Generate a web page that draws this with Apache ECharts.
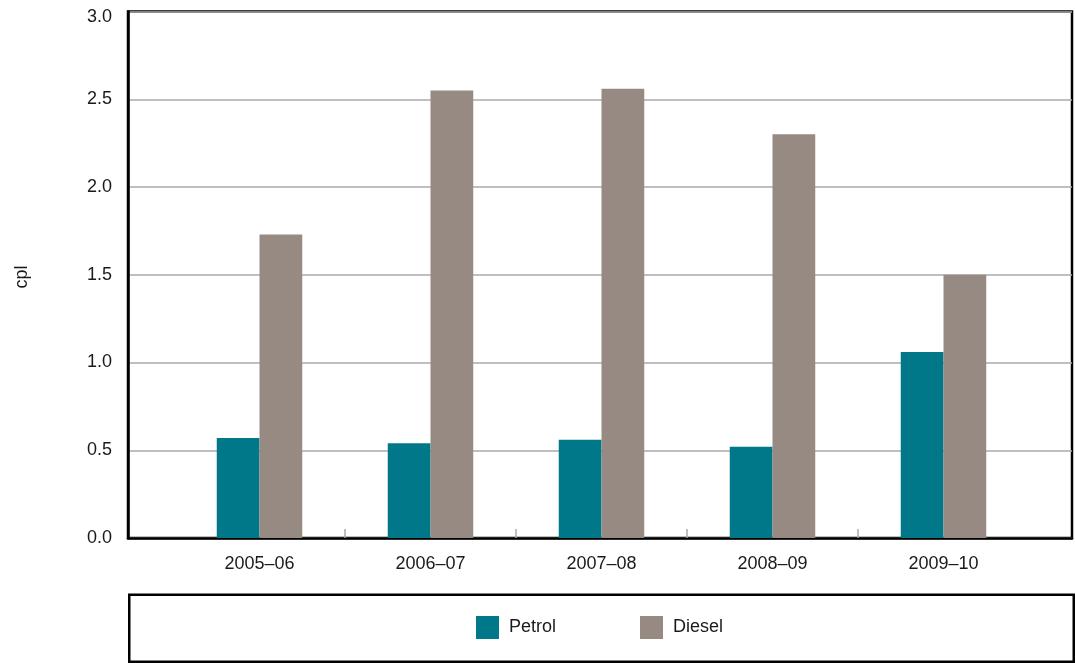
<!DOCTYPE html>
<html><head><meta charset="utf-8">
<script src="https://cdn.jsdelivr.net/npm/echarts@6/dist/echarts.min.js"></script>
<style>html,body{margin:0;padding:0;background:#fff}#c{width:1075px;height:663px}</style>
</head><body><div id="c"></div>
<script>
const categories = ['2005–06', '2006–07', '2007–08', '2008–09', '2009–10'];
const petrol = [0.57, 0.54, 0.56, 0.52, 1.06];
const diesel = [1.73, 2.55, 2.56, 2.30, 1.50];
const yMin = 0, yMax = 3, yStep = 0.5;
const yName = 'cpl';
const seriesNames = ['Petrol', 'Diesel'];

const FONT = '"Liberation Sans", Arial, sans-serif';
const TXT = '#1a1a1a';
// extra hidden category on the right so the trailing boundary tick falls off-canvas
const barCats = categories.concat(['']);
const pad = arr => arr.concat(['-']);

const chart = echarts.init(document.getElementById('c'), null, {renderer: 'canvas'});
chart.setOption({
  animation: false,
  backgroundColor: '#fff',
  textStyle: {fontFamily: FONT},
  grid: [
    {left: 128, right: 3, top: 11.5, bottom: 125, show: true, borderColor: '#000', borderWidth: 2.5,
     containLabel: false, outerBoundsMode: 'none'},
    {left: 174, width: 1026, top: 11.5, bottom: 125, containLabel: false, outerBoundsMode: 'none'}
  ],
  xAxis: [
    {gridIndex: 0, type: 'value', min: 0, max: 1, axisLabel: {show: false}, axisTick: {show: false}, splitLine: {show: false},
     axisLine: {show: true, lineStyle: {color: '#000', width: 2.5}}},
    {gridIndex: 1, type: 'category', data: barCats, axisLine: {show: false},
     axisTick: {show: true, inside: true, length: 9, lineStyle: {color: '#aaa', width: 1.5},
       interval: function (idx) { return idx >= 1 && idx <= categories.length - 1; }},
     axisLabel: {interval: 0, margin: 17, fontSize: 18, color: TXT, fontFamily: FONT}}
  ],
  yAxis: [
    {gridIndex: 0, type: 'value', min: yMin, max: yMax, interval: yStep,
     axisLine: {show: true, lineStyle: {color: '#000', width: 2.5}}, axisTick: {show: false},
     splitLine: {show: true, lineStyle: {color: '#aaa', width: 1.5}},
     axisLabel: {margin: 16, fontSize: 18, color: TXT, fontFamily: FONT,
       formatter: v => v === yMax ? '{t|' + v.toFixed(1) + '}' : v.toFixed(1),
       rich: {t: {fontSize: 18, color: TXT, fontFamily: FONT, padding: [11, 0, 0, 0]}}}},
    {gridIndex: 1, type: 'value', min: yMin, max: yMax, interval: yStep, show: false, splitLine: {show: false}}
  ],
  legend: {
    left: 471, top: 611, itemWidth: 23, itemHeight: 23, itemGap: 84, icon: 'rect',
    textStyle: {fontSize: 18, color: TXT, fontFamily: FONT, padding: [0, 0, 0, 5]},
    data: seriesNames
  },
  graphic: [
    {type: 'rect', left: 128 - 1.25, top: 593.5 - 1.25, shape: {width: 944.5, height: 67}, z: 10,
     style: {fill: 'none', stroke: '#000', lineWidth: 2.5}},
    {type: 'text', x: 22, y: 277, rotation: Math.PI / 2,
     style: {text: yName, fontSize: 18, fill: TXT, fontFamily: FONT, align: 'center', verticalAlign: 'middle'}}
  ],
  series: [
    {name: seriesNames[0], type: 'bar', xAxisIndex: 1, yAxisIndex: 1, data: pad(petrol),
     barGap: '0%', barCategoryGap: '50%', itemStyle: {color: '#00788A'}},
    {name: seriesNames[1], type: 'bar', xAxisIndex: 1, yAxisIndex: 1, data: pad(diesel),
     barGap: '0%', barCategoryGap: '50%', itemStyle: {color: '#978A82'}}
  ]
});
</script></body></html>
